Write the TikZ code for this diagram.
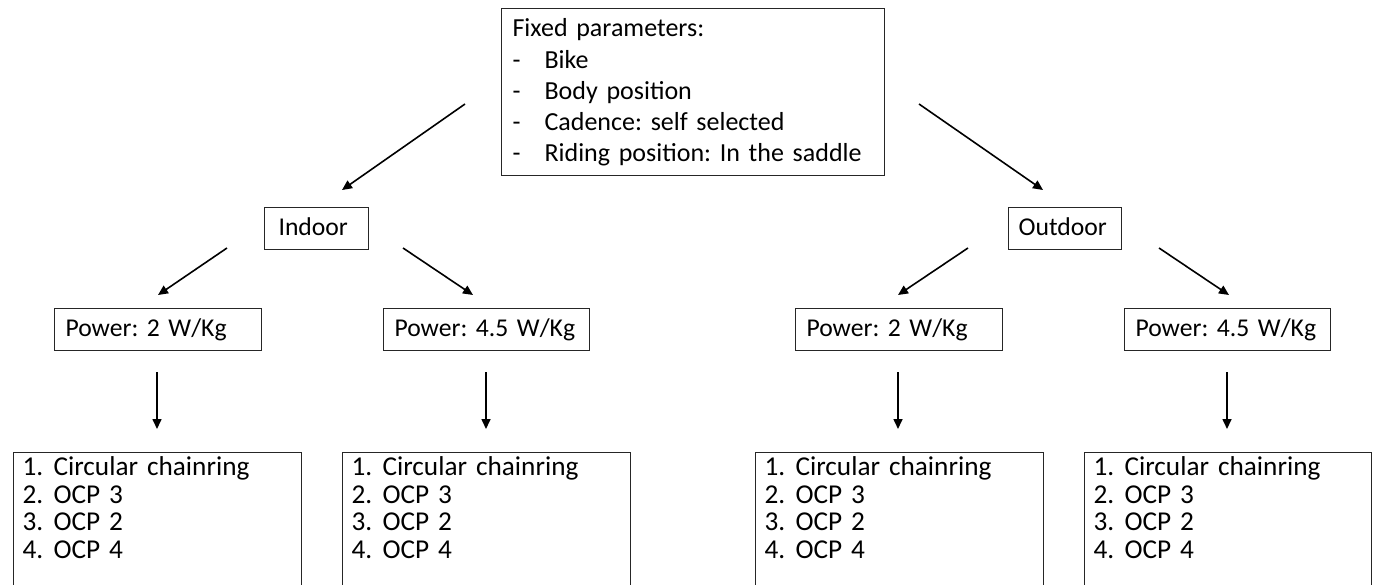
\documentclass[tikz,border=0pt]{standalone}
\usepackage{fontspec}
\setmainfont{Carlito}
\usetikzlibrary{arrows.meta}
\newlength\mylenA
\newlength\mylenB
\newlength\mylenC
\settowidth{\mylenA}{\fontsize{10}{12}\selectfont\frenchspacing Riding position: In the saddle}
\settowidth{\mylenB}{\fontsize{10}{12}\selectfont\frenchspacing Power: 4.5 W/Kg}
\settowidth{\mylenC}{\fontsize{10}{12}\selectfont\frenchspacing Circular chainring}
\pgfmathsetmacro{\fsA}{10*306/\mylenA}
\pgfmathsetmacro{\fsB}{10*175/\mylenB}
\pgfmathsetmacro{\fsC}{10*193/\mylenC}
\begin{document}
\begin{tikzpicture}[x=1pt,y=-1pt,
  box/.style={draw=black!85,line width=1.1pt,rectangle,anchor=north west,
    inner xsep=0pt,inner ysep=0pt,align=left},
  smallbox/.style={box,text height=28pt,text depth=14pt,
    font=\fontsize{\fsB pt}{28pt}\selectfont\frenchspacing},
  listbox/.style={box,text height=23pt,text depth=140pt,
    font=\fontsize{\fsC pt}{27.7pt}\selectfont\frenchspacing},
  topbox/.style={box,text height=28pt,text depth=139pt,
    font=\fontsize{\fsA pt}{31pt}\selectfont\frenchspacing},
  arr/.style={line width=1.6pt,-{Triangle[length=10pt,width=9pt]}}]
\useasboundingbox (0,0) rectangle (1376,584);
\clip (0,0) rectangle (1376,584);
\newcommand\dashitem[1]{\makebox[32pt][l]{-}#1}
\newcommand\numitem[2]{\makebox[31pt][l]{#1}#2}
% top box
\node[topbox,text width=383pt] (top) at (501,8)
  {\hspace*{11pt}Fixed parameters:\\[1pt]
   \hspace*{11pt}\dashitem{Bike}\\
   \hspace*{11pt}\dashitem{Body position}\\
   \hspace*{11pt}\dashitem{Cadence: self selected}\\
   \hspace*{11pt}\dashitem{Riding position: In the saddle}};
% level 2
\node[smallbox,text width=104pt] (indoor) at (264,207) {\hspace*{14pt}Indoor};
\node[smallbox,text width=113pt] (outdoor) at (1008,207) {\hspace*{10pt}Outdoor};
% level 3
\node[smallbox,text width=207pt] (p1) at (54,308) {\hspace*{11pt}Power: 2 W/Kg};
\node[smallbox,text width=206pt] (p2) at (383,308) {\hspace*{11pt}Power: 4.5 W/Kg};
\node[smallbox,text width=207pt] (p3) at (795,308) {\hspace*{11pt}Power: 2 W/Kg};
\node[smallbox,text width=206pt] (p4) at (1124,308) {\hspace*{11pt}Power: 4.5 W/Kg};
% level 4
\newcommand\olist{\hspace*{9pt}\numitem{1.}{Circular chainring}\\
  \hspace*{9pt}\numitem{2.}{OCP 3}\\
  \hspace*{9pt}\numitem{3.}{OCP 2}\\
  \hspace*{9pt}\numitem{4.}{OCP 4}}
\node[listbox,text width=288pt] (b1) at (13,452) {\olist};
\node[listbox,text width=288pt] (b2) at (342,452) {\olist};
\node[listbox,text width=288pt] (b3) at (755,452) {\olist};
\node[listbox,text width=287pt] (b4) at (1084,452) {\olist};
% arrow end points
\coordinate (t1) at (465,104); \coordinate (t1e) at (342,190);
\coordinate (t2) at (919,104); \coordinate (t2e) at (1043,190);
\coordinate (i1) at (227,248); \coordinate (i1e) at (158,295);
\coordinate (i2) at (403,248); \coordinate (i2e) at (473,295);
\coordinate (o1) at (968,248); \coordinate (o1e) at (898,295);
\coordinate (o2) at (1159,248); \coordinate (o2e) at (1229,295);
\coordinate (v1) at (157,372); \coordinate (v1e) at (157,429);
\coordinate (v2) at (486,372); \coordinate (v2e) at (486,429);
\coordinate (v3) at (898,372); \coordinate (v3e) at (898,429);
\coordinate (v4) at (1227,372); \coordinate (v4e) at (1227,429);
\draw[arr] (t1) -- (t1e);
\draw[arr] (t2) -- (t2e);
\draw[arr] (i1) -- (i1e);
\draw[arr] (i2) -- (i2e);
\draw[arr] (o1) -- (o1e);
\draw[arr] (o2) -- (o2e);
\draw[arr] (v1) -- (v1e);
\draw[arr] (v2) -- (v2e);
\draw[arr] (v3) -- (v3e);
\draw[arr] (v4) -- (v4e);
\end{tikzpicture}
\end{document}
